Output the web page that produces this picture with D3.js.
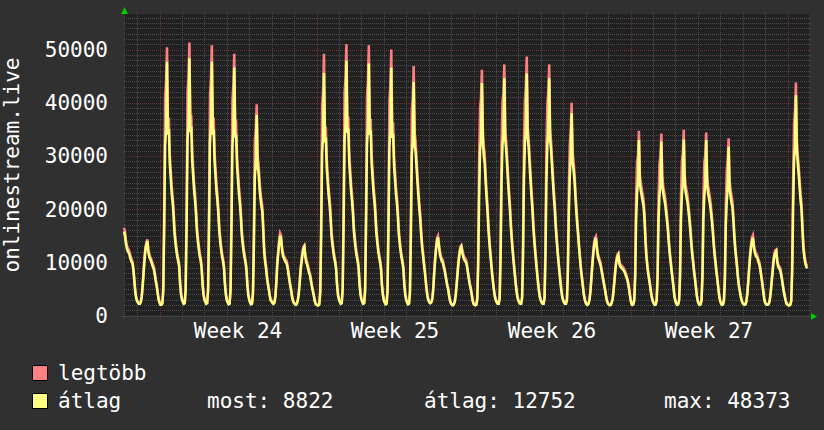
<!doctype html>
<html>
<head>
<meta charset="utf-8">
<style>
  body { margin: 0; background: #303030; }
  svg { display: block; }
  text { font-family: 'DejaVu Sans Mono', monospace; font-size: 21px; fill: #ffffff; }
  .minor { stroke: #4e4e4e; stroke-width: 1; stroke-dasharray: 1 1; shape-rendering: crispEdges; }
  .major { stroke: #6e3232; stroke-width: 1; stroke-dasharray: 1 1; shape-rendering: crispEdges; }
</style>
<script src="https://d3js.org/d3.v7.min.js"></script>
</head>
<body>
<svg width="824" height="430"></svg>
<script>
// hourly samples, in hundreds, first one is Sat 2013-06-08 10:00 UTC
const avgWk23 = [158,150,136,126,121,118,113,106,101,98,86,66,45,33,
  27,24,22,22,25,35,55,80,105,124,132,140,120,110,106,102,96,91,86,76,64,55,42,30];
const maxWk23 = [165,158,143,132,127,124,119,112,106,103,91,70,48,35,
  29,25,23,23,27,38,60,86,111,130,137,143,126,116,111,107,101,96,91,80,68,58,45,32];

const avgWk24 = [
  24,20,20,22,45,160,320,350,477,340,350,285,258,230,213,190,155,137,122,110,102,92,60,40,
  30,25,22,23,48,170,330,360,483.73,345,355,290,262,235,216,192,158,140,124,112,103,90,60,40,
  30,25,22,23,46,165,325,355,477,340,350,286,260,232,214,190,156,138,122,110,101,88,58,39,
  29,24,21,22,45,160,315,345,466,335,340,280,254,228,210,186,152,134,120,108,99,86,56,38,
  29,24,21,22,40,130,260,290,377,280,268,240,220,205,195,160,120,100,88,70,58,48,36,28,
  26,23,22,24,35,60,95,115,135,150,145,125,112,108,104,100,98,90,78,65,55,45,33,26,
  23,21,20,22,28,40,60,85,100,115,125,129,110,100,95,88,80,75,65,55,46,38,28,22];
const maxWk24 = [
  26,22,21,23,52,200,410,440,504,365,372,302,273,244,226,202,165,146,130,117,108,98,64,43,
  32,27,23,24,55,210,420,450,513,370,377,308,278,249,229,204,168,149,132,119,109,96,64,43,
  32,27,23,24,53,205,415,445,508,365,372,304,276,246,227,202,166,147,130,117,107,94,62,42,
  31,26,22,23,52,198,405,432,492,358,361,297,270,242,223,198,162,143,128,115,105,92,60,41,
  31,26,22,23,46,165,330,350,397,300,285,255,234,218,207,170,128,107,94,75,62,51,38,30,
  28,24,23,25,38,65,102,122,142,155,151,131,118,113,109,105,103,95,82,69,58,48,35,28,
  24,22,21,23,30,43,64,90,106,121,130,132,116,106,100,93,85,79,69,58,49,40,30,23];

const avgWk25 = [
  20,19,19,21,42,150,305,335,456,325,335,275,250,225,208,184,150,133,119,107,99,86,56,38,
  30,25,22,23,48,168,328,358,479,344,352,288,261,233,215,191,157,139,123,111,102,89,59,40,
  30,25,22,23,46,165,322,352,474,340,348,285,258,231,213,189,155,137,121,109,100,87,57,39,
  29,24,21,22,45,160,316,346,466,334,342,281,255,228,211,187,153,135,120,108,99,86,56,38,
  29,24,21,22,42,150,300,330,439,320,310,280,250,225,200,180,150,128,112,95,80,62,45,33,
  27,24,23,25,32,50,80,105,125,140,147,130,115,108,102,100,92,85,75,65,55,48,35,27,
  22,20,19,21,26,38,58,80,100,115,125,129,118,110,105,102,100,92,80,68,58,50,40,28];
const maxWk25 = [
  21,20,20,22,48,185,395,420,492,350,355,292,265,239,221,196,160,142,127,114,105,92,60,41,
  32,27,23,24,55,208,418,446,510,369,374,306,277,247,228,203,167,148,131,118,108,95,63,43,
  32,27,23,24,53,204,412,440,508,364,370,302,274,245,226,201,165,146,129,116,106,93,61,42,
  31,26,22,23,52,198,404,432,500,358,363,298,271,242,224,199,163,144,128,115,105,92,60,41,
  31,26,22,23,48,185,385,410,469,343,330,297,265,239,212,191,159,136,119,101,85,66,48,35,
  29,25,24,26,34,54,86,112,132,146,150,136,121,113,107,105,97,89,79,68,58,51,37,28,
  23,21,20,22,28,41,62,85,106,121,130,132,124,116,110,107,105,97,84,72,61,53,42,30];

const avgWk26 = [
  22,20,19,20,30,90,220,310,330,437,330,300,286,250,220,195,160,136,115,95,75,60,45,34,
  28,24,22,22,32,110,250,320,345,446,330,310,280,250,222,198,165,140,118,98,80,62,46,34,
  28,24,22,22,32,110,255,325,350,455,335,315,284,253,225,200,166,141,119,99,80,62,46,34,
  28,24,22,22,32,108,250,320,345,446,330,310,280,250,222,198,165,140,118,98,80,62,46,34,
  28,24,22,22,30,80,190,260,300,380,290,274,255,225,195,170,149,125,105,85,70,55,40,30,
  24,21,20,22,28,42,65,90,112,130,140,146,125,112,105,100,94,84,74,64,55,45,34,26,
  22,20,19,20,24,32,48,68,88,102,110,114,98,92,90,88,86,84,80,75,70,64,55,42];
const maxWk26 = [
  23,21,20,21,34,115,290,390,410,462,350,318,303,265,233,207,170,144,122,101,80,64,48,36,
  30,25,23,23,36,140,320,400,420,472,350,328,297,265,235,210,175,148,125,104,85,66,49,36,
  30,25,23,23,36,140,325,405,430,487,355,334,301,268,238,212,176,149,126,105,85,66,49,36,
  30,25,23,23,36,138,318,398,420,472,350,328,297,265,235,210,175,148,125,104,85,66,49,36,
  30,25,23,23,33,100,240,320,350,400,308,290,270,238,207,180,158,132,111,90,74,58,42,32,
  25,22,21,23,30,45,70,96,119,137,146,149,131,118,110,105,99,88,78,67,58,47,36,27,
  23,21,20,21,26,34,51,72,93,107,115,117,103,97,95,93,91,88,84,79,74,67,58,44];

const avgWk27 = [
  30,22,20,21,28,70,180,230,250,330,250,235,225,215,205,180,140,110,92,78,66,55,42,32,
  26,22,20,21,28,70,180,225,245,327,245,230,220,210,195,178,160,135,115,99,82,68,52,36,
  27,22,20,21,28,70,180,228,248,331,248,232,222,212,197,179,160,135,115,99,82,68,52,36,
  27,22,20,21,28,70,180,226,246,330,246,230,220,210,195,178,158,133,113,97,80,66,50,35,
  27,22,20,21,28,65,170,215,240,317,240,225,212,205,180,150,125,108,90,70,55,45,35,28,
  23,21,20,21,26,40,62,88,110,128,140,146,128,118,112,110,106,100,95,85,72,60,46,32,
  24,21,20,20,22,28,42,62,80,100,112,118,121,100,92,88,86,78,68,56,45,36,28,22];
const maxWk27 = [
  32,23,21,22,31,85,225,290,300,347,265,249,238,228,217,191,148,116,97,82,70,58,44,34,
  27,23,21,22,31,85,222,285,300,342,260,244,233,223,207,189,170,143,122,105,87,72,55,38,
  28,23,21,22,31,85,225,290,305,349,263,246,235,225,209,190,170,143,122,105,87,72,55,38,
  28,23,21,22,31,85,224,288,302,344,261,244,233,223,207,189,168,141,120,103,85,70,53,37,
  28,23,21,22,31,80,212,275,295,333,254,238,225,217,191,159,132,114,95,74,58,47,37,29,
  24,22,21,22,28,43,67,94,117,135,147,151,134,124,118,116,111,105,100,89,76,63,48,34,
  25,22,21,21,23,30,45,66,85,106,118,123,124,106,97,93,91,82,72,59,47,38,29,23];

const avgWk28 = [20,19,19,20,26,80,200,290,320,414,310,285,265,240,215,199,160,125,110,98,92,88.22];
const maxWk28 = [21,20,20,21,29,100,255,360,385,438,330,302,281,254,228,211,170,133,117,104,97,93];

const yTicks = [0, 10000, 20000, 30000, 40000, 50000];
const weekLabels = ['Week 24', 'Week 25', 'Week 26', 'Week 27'];
const legendStats = ['most: 8822', 'átlag: 12752', 'max: 48373'];

const HOUR = 3600 * 1000;
const start = Date.UTC(2013, 5, 8, 10);
const end = start + 733 * HOUR;

const avgAll = [].concat(avgWk23, avgWk24, avgWk25, avgWk26, avgWk27, avgWk28);
const maxAll = [].concat(maxWk23, maxWk24, maxWk25, maxWk26, maxWk27, maxWk28);
const toPoints = arr => arr.map((v, i) => ({ t: new Date(start + i * HOUR), v: v * 100 }));

const svg = d3.select('svg');

const x = d3.scaleUtc().domain([new Date(start), new Date(end)]).range([124, 809]);
const y = d3.scaleLinear().domain([0, 50000]).range([315.5, 49.5]);
const plotTop = 14;
const yMax = y.invert(plotTop);

svg.append('rect').attr('width', 824).attr('height', 430).attr('fill', '#303030');
svg.append('rect')
  .attr('x', 124).attr('y', plotTop)
  .attr('width', 809 - 124).attr('height', y(0) - plotTop)
  .attr('fill', '#212121');

// horizontal grid
svg.append('g').selectAll('line')
  .data(d3.range(1000, yMax, 1000))
  .join('line')
  .attr('class', d => d % 10000 === 0 ? 'major' : 'minor')
  .attr('x1', 124).attr('x2', 812)
  .attr('y1', d => Math.round(y(d)) + 0.5).attr('y2', d => Math.round(y(d)) + 0.5);

// vertical grid, a line per day, red on mondays
const days = d3.utcDay.range(new Date(start), new Date(end));
svg.append('g').selectAll('line')
  .data(days)
  .join('line')
  .attr('class', d => d.getUTCDay() === 1 ? 'major' : 'minor')
  .attr('x1', d => Math.round(x(d)) + 0.5).attr('x2', d => Math.round(x(d)) + 0.5)
  .attr('y1', plotTop - 2).attr('y2', 319);

// axes
svg.append('line').attr('class', 'minor')
  .attr('x1', 124.5).attr('x2', 124.5).attr('y1', 10).attr('y2', 319);
svg.append('line')
  .attr('x1', 121).attr('x2', 812).attr('y1', 316.5).attr('y2', 316.5)
  .attr('stroke', '#444444').attr('shape-rendering', 'crispEdges');
svg.append('path').attr('d', 'M121,14L124.5,7L128,14Z').attr('fill', '#00cc00');
svg.append('path').attr('d', 'M811,313L817,316.5L811,320Z').attr('fill', '#00cc00');

// lines
const line = d3.line().x(d => x(d.t)).y(d => y(d.v));
svg.append('path').datum(toPoints(maxAll))
  .attr('d', line).attr('fill', 'none')
  .attr('stroke', '#ff8080').attr('stroke-width', 2.5).attr('stroke-linejoin', 'miter');
svg.append('path').datum(toPoints(avgAll))
  .attr('d', line).attr('fill', 'none')
  .attr('stroke', '#ffff80').attr('stroke-width', 2.5).attr('stroke-linejoin', 'miter');

// y labels
svg.append('g').selectAll('text')
  .data(yTicks)
  .join('text')
  .attr('x', 108).attr('y', d => y(d) + 7.5)
  .attr('text-anchor', 'end')
  .text(d => d);

svg.append('text')
  .attr('transform', 'translate(19,165) rotate(-90)')
  .attr('text-anchor', 'middle')
  .text('onlinestream.live');

// week labels, centered in each week
const mondays = d3.utcMonday.range(new Date(start), new Date(end));
svg.append('g').selectAll('text')
  .data(weekLabels)
  .join('text')
  .attr('x', (d, i) => x(d3.utcHour.offset(mondays[i], 84)))
  .attr('y', 338)
  .attr('text-anchor', 'middle')
  .text(d => d);

// legend
const legend = svg.append('g');
legend.append('rect').attr('x', 32.5).attr('y', 365.5).attr('width', 15).attr('height', 15)
  .attr('fill', '#ff8080').attr('stroke', '#000');
legend.append('rect').attr('x', 32.5).attr('y', 393.5).attr('width', 15).attr('height', 15)
  .attr('fill', '#ffff80').attr('stroke', '#000');
legend.append('text').attr('x', 58).attr('y', 380).text('legtöbb');
legend.append('text').attr('x', 58).attr('y', 408).text('átlag');
legend.selectAll('text.stat')
  .data(legendStats)
  .join('text')
  .attr('class', 'stat')
  .attr('x', (d, i) => [207, 424, 664][i])
  .attr('y', 408)
  .text(d => d);
</script>
</body>
</html>
